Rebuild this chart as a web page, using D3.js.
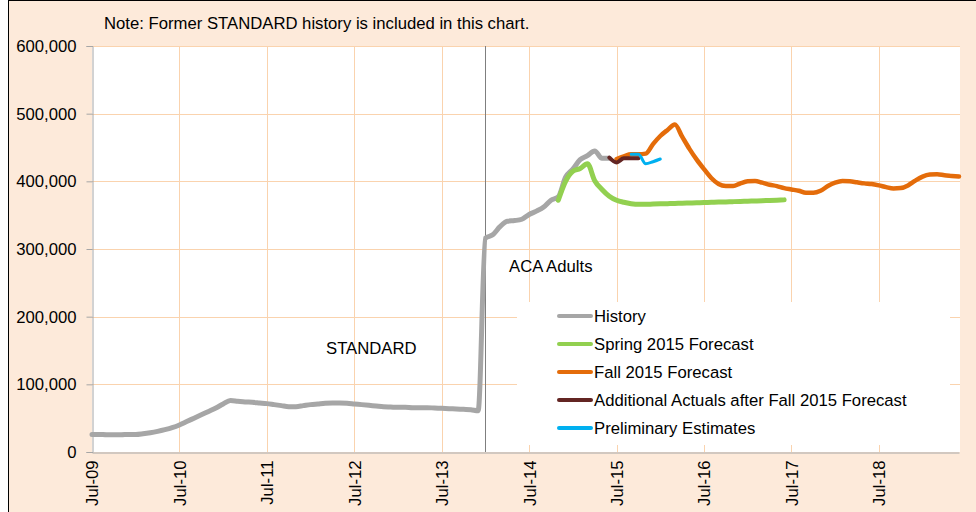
<!DOCTYPE html>
<html>
<head>
<meta charset="utf-8">
<script src="https://cdn.jsdelivr.net/npm/d3@7"></script>
<style>
  body { margin: 0; background: #fff; }
  svg { display: block; font-family: "Liberation Sans", Arial, sans-serif; font-size: 16.7px; }
  .axis text { fill: #000; font-size: 16.7px; }
</style>
</head>
<body>
<div id="chart"></div>
<script>
// monthly categories, Jul-09 .. Jun-19
var months = d3.timeMonth.range(new Date(2009, 6, 1), new Date(2019, 6, 1));
var monthLabel = d3.timeFormat('%b-%y');
var categories = months.map(monthLabel);
var tickLabels = ['Jul-09', 'Jul-10', 'Jul-11', 'Jul-12', 'Jul-13', 'Jul-14', 'Jul-15', 'Jul-16', 'Jul-17', 'Jul-18'];
var yTicks = [0, 100000, 200000, 300000, 400000, 500000, 600000];

// values in thousands
var historyStart = 'Jul-09';
var historyValues = [
  26, 26, 25.5, 25.5, 25.5, 26, 26, 27, 28.5, 30.5, 33, 36,
  40, 45, 50, 55, 60, 65, 71, 76, 75, 74, 73.5, 72.5,
  71.5, 70, 68.5, 67, 67, 68.5, 70, 71, 72, 72.5, 72.5, 72,
  71, 70, 69, 68, 67, 66.5, 66, 66, 65.5, 65.5, 65.5, 65,
  64.5, 64, 63.5, 63, 62.5, 61, 316, 321, 333, 341, 342, 344,
  351, 356, 362, 372, 377, 406, 418, 432, 438, 445, 434, 434
];
var springStart = 'Nov-14';
var springValues = [
  372, 400, 415, 419, 426, 401, 388, 378, 372, 369, 367, 366,
  366, 366.5, 366.8, 367, 367.3, 367.6, 368, 368.3, 368.6, 369, 369.3, 369.6,
  370, 370.3, 370.7, 371, 371.4, 371.8, 372.2, 372.6
];
var fallStart = 'Jul-15';
var fallValues = [
  433, 437, 440, 440, 441, 455, 467, 476, 484, 466, 448, 432,
  418, 405, 396, 393, 393, 397, 400, 400.5, 398, 395, 393, 390,
  388, 386, 383, 383, 386, 393, 398, 400.5, 400, 398.5, 397, 396,
  394, 391.5, 389.5, 390, 394, 401, 407, 410, 410.5, 409, 408, 407
];
var additionalStart = 'Jun-15';
var additionalValues = [435, 428, 434, 434, 434];
var prelimStart = 'Sep-15';
var prelimValues = [440, 440, 426, 429, 433];

var series = [
  { name: 'History', start: historyStart, values: historyValues, color: '#a6a6a6', width: 5 },
  { name: 'Spring 2015 Forecast', start: springStart, values: springValues, color: '#92d050', width: 5 },
  { name: 'Fall 2015 Forecast', start: fallStart, values: fallValues, color: '#e46c0a', width: 4.5 },
  { name: 'Additional Actuals after Fall 2015 Forecast', start: additionalStart, values: additionalValues, color: '#632523', width: 4 },
  { name: 'Preliminary Estimates', start: prelimStart, values: prelimValues, color: '#00b0f0', width: 3 }
];

var size = { w: 976, h: 512 };
var plot = { left: 92, right: 959, top: 46, bottom: 452, edge: 960 };

var svg = d3.select('#chart').append('svg')
  .attr('width', size.w)
  .attr('height', size.h);

// frame
svg.append('rect')
  .attr('x', 8.5).attr('y', 0.5)
  .attr('width', size.w).attr('height', size.h)
  .attr('fill', '#fdeada')
  .attr('stroke', '#000')
  .attr('stroke-width', 1);

svg.append('rect')
  .attr('x', plot.left).attr('y', plot.top)
  .attr('width', plot.edge - plot.left).attr('height', plot.bottom - plot.top)
  .attr('fill', '#fff');

var x = d3.scalePoint()
  .domain(categories)
  .range([plot.left, plot.right]);
var y = d3.scaleLinear()
  .domain([0, 600000])
  .range([plot.bottom, plot.top]);

// gridlines
var grid = svg.append('g').attr('class', 'grid')
  .attr('stroke', '#fad3ae').attr('stroke-width', 1);
grid.selectAll('line.h').data(yTicks.slice(1)).enter().append('line')
  .attr('class', 'h')
  .attr('x1', plot.left).attr('x2', plot.edge)
  .attr('y1', function(d) { return Math.round(y(d)) + 0.5; })
  .attr('y2', function(d) { return Math.round(y(d)) + 0.5; });
grid.selectAll('line.v').data(tickLabels.slice(1)).enter().append('line')
  .attr('class', 'v')
  .attr('x1', function(d) { return Math.round(x(d)) + 0.5; })
  .attr('x2', function(d) { return Math.round(x(d)) + 0.5; })
  .attr('y1', plot.top).attr('y2', plot.bottom);

// y axis
var yAxis = d3.axisLeft(y)
  .tickValues(yTicks)
  .tickSize(6)
  .tickPadding(10)
  .tickFormat(d3.format(','));
svg.append('g')
  .attr('class', 'axis axis-y')
  .attr('transform', 'translate(' + (plot.left + 0.5) + ',0)')
  .call(yAxis)
  .call(function(g) {
    g.select('.domain').attr('stroke', '#a6a6a6');
    g.selectAll('.tick line').attr('stroke', '#a6a6a6');
  });

// x axis
var xAxis = d3.axisBottom(x)
  .tickValues(tickLabels)
  .tickSize(0)
  .tickSizeOuter(0);
svg.append('g')
  .attr('class', 'axis axis-x')
  .attr('transform', 'translate(0,' + (plot.bottom + 0.5) + ')')
  .call(xAxis)
  .call(function(g) {
    g.select('.domain').attr('stroke', '#a6a6a6');
    g.selectAll('.tick text')
      .attr('text-anchor', 'end')
      .attr('transform', 'rotate(-90)')
      .attr('x', -8)
      .attr('y', 0)
      .attr('dy', '0.35em');
  });

// ACA start divider
svg.append('line')
  .attr('x1', Math.round(x('Jan-14')) + 0.5).attr('x2', Math.round(x('Jan-14')) + 0.5)
  .attr('y1', plot.top).attr('y2', plot.bottom)
  .attr('stroke', '#7f7f7f').attr('stroke-width', 1);

// series lines
var line = d3.line()
  .x(function(d) { return x(d.m); })
  .y(function(d) { return y(d.v * 1000); })
  .curve(d3.curveMonotoneX);

series.forEach(function(s) {
  var i0 = categories.indexOf(s.start);
  var points = s.values.map(function(v, i) { return { m: categories[i0 + i], v: v }; });
  svg.append('path')
    .datum(points)
    .attr('d', line)
    .attr('fill', 'none')
    .attr('stroke', s.color)
    .attr('stroke-width', s.width)
    .attr('stroke-linejoin', 'round')
    .attr('stroke-linecap', 'round');
});

// labels
svg.append('text')
  .attr('x', 104).attr('y', 29)
  .text('Note: Former STANDARD history is included in this chart.');
svg.append('text')
  .attr('x', 326).attr('y', 354)
  .text('STANDARD');
svg.append('text')
  .attr('x', 509).attr('y', 272)
  .text('ACA Adults');

// legend
var legend = svg.append('g').attr('class', 'legend');
legend.append('rect')
  .attr('x', 517).attr('y', 302)
  .attr('width', 433).attr('height', 143)
  .attr('fill', '#fff');
var items = legend.selectAll('g.item').data(series).enter().append('g')
  .attr('class', 'item')
  .attr('transform', function(d, i) { return 'translate(0,' + (316 + i * 28) + ')'; });
items.append('line')
  .attr('x1', 559).attr('x2', 591)
  .attr('stroke', function(d) { return d.color; })
  .attr('stroke-width', 4)
  .attr('stroke-linecap', 'round');
items.append('text')
  .attr('x', 594)
  .attr('dy', '0.35em')
  .text(function(d) { return d.name; });
</script>
</body>
</html>
